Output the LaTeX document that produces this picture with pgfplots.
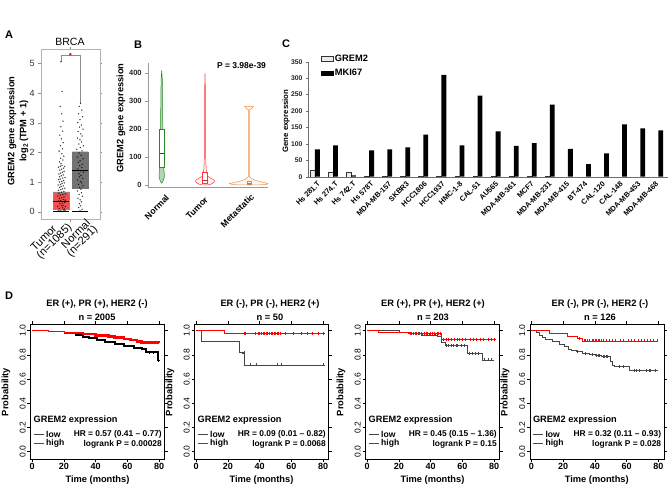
\documentclass[border=0pt]{standalone}
\usepackage{fontspec}
\setmainfont{Liberation Sans}
\usepackage{pgfplots}
\usepackage{pgfplotstable}
\pgfplotsset{compat=1.18}
\newcommand{\fs}[1]{\fontsize{#1}{#1}\selectfont}
\definecolor{gepiared}{RGB}{242,80,80}
\definecolor{gepiagray}{RGB}{115,115,115}
\definecolor{vgreen}{RGB}{40,135,40}
\definecolor{vred}{RGB}{255,55,55}
\definecolor{vorange}{RGB}{232,150,85}
\definecolor{kmred}{RGB}{255,0,0}
\definecolor{kmgray}{RGB}{70,70,70}
\definecolor{axgray}{RGB}{110,110,110}

\pgfplotstableread{
i grem mki
0 20 83
1 15 95
2 13 4
3 2 80
4 2 83
5 2 89
6 1 128
7 1 310
8 1 95
9 0.5 247
10 1 138
11 0.5 94
12 0.5 102
13 0.5 219
14 0 85
15 0 38
16 0 71
17 0 159
18 0 147
19 0 141
}\dataC

\pgfplotsset{
 km/.style={anchor=south west, scale only axis, width=134pt, height=134.7pt,
  xmin=-1, xmax=83.4, ymin=-0.06, ymax=1.053,
  xtick={0,20,40,60,80}, ytick={0,0.2,0.4,0.6,0.8,1},
  tick align=outside, major tick length=3pt,
  axis line style={black, line width=0.6pt}, tick style={black, line width=0.6pt},
  xticklabel style={font=\fs{9}\bfseries, inner sep=1.5pt},
  yticklabel style={font=\fs{8.5}, rotate=90, anchor=south, inner sep=1.5pt,
    /pgf/number format/fixed, /pgf/number format/fixed zerofill, /pgf/number format/precision=1},
  /pgf/number format/assume math mode=true},
 cens/.style={only marks, mark=+, mark size=1.5pt, line width=0.4pt},
}

\begin{document}
\begin{tikzpicture}
\path[use as bounding box] (0pt,0pt) rectangle (669pt,-487pt);

% panel letters
\node[font=\fs{11}\bfseries] at (9pt,-35pt) {A};
\node[font=\fs{11}\bfseries] at (138pt,-45pt) {B};
\node[font=\fs{11}\bfseries] at (286pt,-44pt) {C};
\node[font=\fs{11}\bfseries] at (9pt,-296pt) {D};

% ===== Panel A =====
\node[font=\fs{10.5}] at (70pt,-42pt) {BRCA};
\node[rotate=90, font=\fs{9.3}\bfseries] at (12pt,-131pt) {GREM2 gene expression};
\node[rotate=90, font=\fs{9.3}\bfseries] at (24pt,-131pt) {log\textsubscript{2}\,(TPM + 1)};
\begin{axis}[at={(40.7pt,-219pt)}, anchor=south west, scale only axis,
  width=59pt, height=169.7pt, xmin=40.7, xmax=99.7, ymin=-0.246, ymax=5.47,
  axis line style={black!30}, tick style={black!45}, tick align=outside,
  major tick length=2.5pt, ytick={0,1,2,3,4,5}, xtick={70.3}, xticklabels={},
  yticklabel style={font=\fs{9}, text=black!80},
  /pgf/number format/assume math mode=true]
\addplot[fill=gepiared, draw=black!45, line width=0.3pt] coordinates {(53,0.09)(69,0.09)(69,0.67)(53,0.67)(53,0.09)};
\addplot[fill=gepiagray, draw=black!55, line width=0.3pt] coordinates {(72.3,0.79)(88,0.79)(88,2.02)(72.3,2.02)(72.3,0.79)};
\addplot[only marks, mark=*, mark size=0.5pt, mark options={draw=none, fill=black}, opacity=0.6] coordinates {
(58.3,0.03)(60.1,0.05)(61.9,0.02)(63.6,0.06)(65.0,0.04)(59.2,0.11)(62.8,0.13)(64.4,0.09)(57.8,0.18)(61.3,0.2)(63.1,0.22)(65.3,0.17)(59.9,0.27)(62.2,0.29)(64.6,0.31)(58.6,0.36)(60.8,0.38)(63.4,0.41)(65.1,0.39)(59.4,0.45)(61.7,0.47)(64.0,0.5)(57.9,0.53)(60.4,0.56)(62.9,0.58)(65.4,0.6)(59.0,0.63)(61.5,0.66)(63.9,0.68)(58.4,0.72)(60.9,0.74)(62.6,0.77)(64.8,0.79)
(59.7,0.82)(61.2,0.85)(63.3,0.87)(58.1,0.9)(60.5,0.92)(62.1,0.95)(64.3,0.97)(59.3,1.0)(61.8,1.02)(63.7,1.05)(58.7,1.08)(60.2,1.1)(62.7,1.13)(65.0,1.15)(59.6,1.18)(61.4,1.21)(63.2,1.24)(58.9,1.27)(60.7,1.3)(62.3,1.33)(64.1,1.36)(59.8,1.4)(61.6,1.43)(63.5,1.47)(58.4,1.5)(60.3,1.53)(62.0,1.56)(64.7,1.52)
(61.1,1.62)(59.5,1.68)(62.9,1.74)(60.6,1.8)(63.8,1.87)(61.9,1.95)(59.1,2.04)(62.4,2.12)(60.4,2.22)(63.2,2.33)(61.3,2.45)(59.7,2.58)(62.6,2.71)(60.9,2.86)(63.0,3.05)(61.6,3.3)(60.2,3.55)(62.1,4.05)(60.8,5.05)
(80.5,3.65)(79.2,3.55)(81.8,3.42)(78.6,3.3)(82.5,3.2)(80.0,3.1)(77.8,3.0)(81.3,2.92)(79.5,2.85)(83.0,2.78)(78.2,2.7)(80.8,2.62)(82.2,2.55)(77.5,2.48)(79.9,2.42)(81.6,2.35)(78.9,2.28)(83.4,2.22)(80.3,2.16)(76.8,2.1)(82.0,2.05)
(79.0,1.98)(81.2,1.9)(77.3,1.84)(83.1,1.78)(80.1,1.72)(78.4,1.66)(82.4,1.6)(79.7,1.55)(81.9,1.49)(77.9,1.44)(80.6,1.38)(83.3,1.33)(78.8,1.28)(81.0,1.22)(79.3,1.17)(82.7,1.12)(77.6,1.07)(80.4,1.02)(81.7,0.97)(78.5,0.92)(82.9,0.87)(79.8,0.82)(80.9,0.76)(77.4,0.7)(81.4,0.64)(79.1,0.58)(82.3,0.52)(78.0,0.46)(80.2,0.4)(81.5,0.33)(79.4,0.27)(80.7,0.2)(78.7,0.14)(82.1,0.08)(80,0.03)};
\addplot[black, line width=1.2pt] coordinates {(53,0.34)(69,0.34)};
\addplot[black, line width=1.2pt] coordinates {(72.3,1.38)(88,1.38)};
\addplot[black, line width=1.5pt] coordinates {(53,0)(69,0)};
\addplot[black, line width=1.5pt] coordinates {(72.3,0)(88,0)};
\addplot[black!45, line width=0.4pt] coordinates {(60.7,5.05)(60.7,5.27)(80.3,5.27)(80.3,3.66)};
\addplot[only marks, mark=asterisk, mark size=1.4pt, red, line width=0.5pt] coordinates {(70.3,5.3)};
\end{axis}
\node[rotate=45, font=\fs{11}, inner sep=0pt] at (43.5pt,-238pt) {Tumor};
\node[rotate=45, font=\fs{11}, inner sep=0pt] at (54.5pt,-241.5pt) {(n=1085)};
\node[rotate=45, font=\fs{11}, inner sep=0pt] at (75.5pt,-234pt) {Normal};
\node[rotate=45, font=\fs{11}, inner sep=0pt] at (82.5pt,-241.5pt) {(n=291)};

% ===== Panel B =====
\node[rotate=90, font=\fs{9.3}\bfseries] at (121pt,-118pt) {GREM2 gene expression};
\begin{axis}[at={(147.7pt,-187.3pt)}, anchor=south west, scale only axis,
  width=120.3pt, height=124pt, xmin=147.7, xmax=268, ymin=-8.2, ymax=435.8,
  axis x line=bottom, axis y line=left, axis line style={axgray!70, -},
  tick style={axgray!70}, tick align=outside, major tick length=2.5pt,
  xtick=\empty, ytick={0,100,200,300,400},
  yticklabel style={font=\fs{7.5}\bfseries, text=black!85},
  /pgf/number format/assume math mode=true]
% Normal violin
\addplot[fill=vgreen!35, draw=vgreen, line width=0.5pt] coordinates {
(161.7,6)(163.2,15)(164.4,30)(164.2,45)(163.7,60)(163.3,80)(163.0,120)(162.8,200)(162.6,300)(162.3,380)(161.7,410)
(161.1,380)(160.8,300)(160.6,200)(160.4,120)(160.1,80)(159.7,60)(159.2,45)(159.0,30)(160.2,15)(161.7,6)};
\addplot[fill=white, draw=vgreen, line width=0.5pt] coordinates {(159.6,62)(163.8,62)(163.8,200)(159.6,200)(159.6,62)};
\addplot[vgreen!70!black, line width=1.1pt] coordinates {(159.6,113)(163.8,113)};
% Tumor violin
\addplot[fill=vred!6, draw=vred, line width=0.5pt] coordinates {
(205,0)(208,0.5)(211,3)(213.5,8)(214.5,13)(214,18)(211,24)(207.5,32)(206.8,42)(206.2,55)(205.8,80)(205.6,130)(205.4,250)(205.2,398)
(204.8,398)(204.6,250)(204.4,130)(204.2,80)(203.8,55)(203.2,42)(202.5,32)(199,24)(196,18)(195.5,13)(196.5,8)(199,3)(202,0.5)(205,0)};
\addplot[fill=white, draw=vred, line width=0.5pt] coordinates {(202.3,6)(207.7,6)(207.7,45)(202.3,45)(202.3,6)};
\addplot[vred!80!black, line width=1pt] coordinates {(202.3,17)(207.7,17)};
% Metastatic violin
\addplot[fill=vorange!8, draw=vorange, line width=0.5pt] coordinates {
(249,0)(259,0.3)(266,2)(268.5,5)(265,8)(258,14)(253,20)(250.5,26)(249.4,32)(249.4,268)(253.3,280)(253.3,282)
(244.7,282)(244.7,280)(248.6,268)(248.6,32)(247.5,26)(245,20)(240,14)(233,8)(229.5,5)(232,2)(239,0.3)(249,0)};
\addplot[fill=white, draw=vorange!90!black, line width=0.5pt] coordinates {(247,1)(251,1)(251,12)(247,12)(247,1)};
\addplot[vorange!80!black, line width=1pt] coordinates {(247,5)(251,5)};
\end{axis}
\node[anchor=east, font=\fs{8.5}\bfseries] at (269.5pt,-66pt) {P = 3.98e-39};
\node[rotate=45, anchor=east, font=\fs{8.8}\bfseries] at (170pt,-194pt) {Normal};
\node[rotate=45, anchor=east, font=\fs{8.8}\bfseries] at (209pt,-196pt) {Tumor};
\node[rotate=45, anchor=east, font=\fs{8.8}\bfseries] at (255pt,-193pt) {Metastatic};

% ===== Panel C =====
\node[rotate=90, font=\fs{7.8}\bfseries] at (286pt,-121pt) {Gene expression};
\begin{axis}[at={(308pt,-176.7pt)}, anchor=south west, scale only axis,
  width=360pt, height=115pt, xmin=-0.387, xmax=19.535, ymin=0, ymax=350,
  axis x line=bottom, axis y line=left, axis line style={axgray, -},
  tick style={axgray}, tick align=outside, major tick length=2pt,
  ybar=0pt, bar width=4.8pt, xtick=\empty, ytick={0,50,100,150,200,250,300,350},
  yticklabel style={font=\fs{6.8}\bfseries, text=black!85},
  /pgf/number format/assume math mode=true,
  legend style={at={(0.035,1.08)}, anchor=north west, draw=none, fill=none,
    font=\fs{9.3}\bfseries, row sep=2.5pt, inner sep=0pt},
  legend cell align=left,
  legend image code/.code={\draw[#1] (0pt,-2.2pt) rectangle (11.7pt,2.2pt);}]
\addplot[fill=black!8, draw=black!80, line width=0.4pt] table[x=i, y=grem] {\dataC};
\addplot[fill=black, draw=none] table[x=i, y=mki] {\dataC};
\legend{GREM2, MKI67}
\end{axis}
\foreach \n [count=\i from 0] in {Hs 281.T, Hs 274.T, Hs 742.T, Hs 578T, MDA-MB-157, SKBR3, HCC1806, HCC1937, HMC-1-8, CAL-51, AU565, MDA-MB-361, MCF7, MDA-MB-231, MDA-MB-415, BT-474, CAL-120, CAL-148, MDA-MB-453, MDA-MB-468}
  {\node[rotate=45, anchor=east, font=\fs{7.4}\bfseries, inner sep=0pt] at ({(319+17.8*\i)*1pt},-182.5pt) {\n};}

% ===== Panel D =====
% plot 1
\begin{axis}[km, at={(30.5pt,-459pt)}]
\addplot[const plot, kmgray, line width=0.5pt] coordinates {(0,1)(10,0.993)(20,0.982)(27,0.963)(32,0.952)(36,0.943)(41,0.925)(46,0.91)(52,0.893)(58,0.874)(64,0.86)(69.5,0.846)(71.5,0.821)(79,0.758)(80,0.758)};
\addplot[const plot, black, line width=2pt] coordinates {(27,0.963)(32,0.952)(36,0.943)(41,0.925)(46,0.91)(52,0.893)(58,0.874)(64,0.86)(69.5,0.846)(71.5,0.821)(79,0.758)(80,0.758)};
\addplot[const plot, kmred, line width=0.5pt] coordinates {(0,1)(10,0.995)(20,0.988)(27,0.98)(32,0.972)(40,0.962)(48,0.952)(52,0.944)(58,0.932)(62,0.924)(66,0.912)(69,0.903)(80,0.9)};
\addplot[const plot, kmred, line width=2.6pt] coordinates {(27.3,0.98)(32,0.972)(40,0.962)(48,0.952)(52,0.944)(58,0.932)(62,0.924)(66,0.912)(69,0.903)(80,0.9)};
\addplot[cens, black] coordinates {(79.5,0.758)(74,0.821)(76,0.821)};
\end{axis}
% plot 2
\begin{axis}[km, at={(194.5pt,-459pt)}]
\addplot[const plot, kmgray, line width=0.5pt] coordinates {(0,1)(3.5,0.915)(27.4,0.818)(30.5,0.717)(80,0.717)};
\addplot[cens, kmgray] coordinates {(30,0.818)(34.3,0.717)(37.8,0.717)(50.9,0.717)(53.6,0.717)(80,0.717)};
\addplot[const plot, kmred, line width=0.5pt] coordinates {(0,1)(18,0.978)(80,0.978)};
\addplot[cens, kmred] coordinates {(30,0.978)(31,0.978)(37,0.978)(39,0.978)(40,0.978)(41,0.978)(42,0.978)(43,0.978)(44,0.978)(45,0.978)(46,0.978)(47,0.978)(48,0.978)(49,0.978)(50,0.978)(51,0.978)(52,0.978)(53,0.978)(56,0.978)(61,0.978)(66,0.978)(70,0.978)(73,0.978)(77,0.978)(80,0.978)};
\end{axis}
% plot 3
\begin{axis}[km, at={(365.5pt,-459pt)}]
\addplot[const plot, kmgray, line width=0.5pt] coordinates {(0,1)(20,0.99)(27,0.978)(34,0.965)(44,0.955)(46.9,0.905)(49,0.877)(63,0.815)(72.5,0.76)(80,0.76)};
\addplot[cens, kmgray] coordinates {(28,0.978)(29,0.978)(31,0.978)(32,0.978)(35,0.965)(36,0.965)(37,0.965)(39,0.965)(41,0.965)(42,0.965)(43,0.965)(50,0.877)(51,0.877)(53,0.877)(54,0.877)(56,0.877)(57,0.877)(59,0.877)(61,0.877)(64,0.815)(66,0.815)(68,0.815)(70,0.815)(74,0.76)(76,0.76)(78,0.76)};
\addplot[const plot, kmred, line width=0.5pt] coordinates {(0,1)(7,0.99)(26,0.978)(47,0.931)(80,0.931)};
\addplot[cens, kmred] coordinates {(27,0.978)(28,0.978)(30,0.978)(31,0.978)(33,0.978)(34,0.978)(36,0.978)(37,0.978)(38,0.978)(40,0.978)(41,0.978)(42,0.978)(44,0.978)(45,0.978)(46,0.978)(48,0.931)(50,0.931)(51,0.931)(53,0.931)(55,0.931)(57,0.931)(58,0.931)(60,0.931)(62,0.931)(65,0.931)(67,0.931)(69,0.931)(71,0.931)(73,0.931)(76,0.931)(78,0.931)(80,0.931)};
\end{axis}
% plot 4
\begin{axis}[km, at={(529.8pt,-459pt)}]
\addplot[const plot, kmgray, line width=0.5pt] coordinates {(0,1)(3,0.984)(5,0.964)(7,0.945)(9,0.931)(13.2,0.909)(17.4,0.89)(20.6,0.868)(23.3,0.846)(25.4,0.835)(28,0.827)(32.2,0.813)(36.4,0.805)(40.6,0.799)(44,0.786)(49.5,0.75)(50.8,0.717)(52,0.703)(61.5,0.67)(80,0.67)};
\addplot[cens, kmgray] coordinates {(29,0.827)(34,0.813)(38,0.805)(41,0.799)(42,0.799)(43,0.799)(45,0.786)(46,0.786)(47,0.786)(48,0.786)(55,0.703)(58,0.703)(65,0.67)(66,0.67)(68,0.67)(72,0.67)(74,0.67)(75,0.67)(78,0.67)};
\addplot[const plot, kmred, line width=0.5pt] coordinates {(0,1)(11.1,0.978)(22.7,0.956)(29,0.937)(32.2,0.917)(80,0.917)};
\addplot[cens, kmred] coordinates {(30,0.937)(33,0.917)(34,0.917)(35,0.917)(36.5,0.917)(38,0.917)(39,0.917)(40,0.917)(41,0.917)(42,0.917)(43,0.917)(44,0.917)(45.5,0.917)(47,0.917)(49,0.917)(51,0.917)(53,0.917)(56,0.917)(58,0.917)(61,0.917)(63,0.917)(65,0.917)(67,0.917)(69,0.917)(71,0.917)(73,0.917)(75,0.917)(77,0.917)(79,0.917)};
\end{axis}

% titles, labels, legends of D
\foreach \L/\tx/\T/\N/\HR/\P in {
  30.5/97/{ER (+), PR (+), HER2 (-)}/{n = 2005}/{HR = 0.57 (0.41 -- 0.77)}/{logrank P = 0.00028},
  194.5/270/{ER (-), PR (-), HER2 (+)}/{n = 50}/{HR = 0.09 (0.01 -- 0.82)}/{logrank P = 0.0068},
  365.5/433/{ER (+), PR (+), HER2 (+)}/{n = 203}/{HR = 0.45 (0.15 -- 1.36)}/{logrank P = 0.15},
  529.8/600/{ER (-), PR (-), HER2 (-)}/{n = 126}/{HR = 0.32 (0.11 -- 0.93)}/{logrank P = 0.028}}
{
  \node[font=\fs{9.3}\bfseries] at (\tx pt,-304.5pt) {\T};
  \node[font=\fs{9.3}\bfseries] at (\tx pt,-317pt) {\N};
  \node[rotate=90, font=\fs{9.3}\bfseries] at ({(\L-24.5)*1pt},-392pt) {Probability};
  \node[font=\fs{9.3}\bfseries] at ({(\L+67)*1pt},-480pt) {Time (months)};
  \node[anchor=west, font=\fs{9.2}\bfseries, inner sep=0pt] at ({(\L+3)*1pt},-420pt) {GREM2 expression};
  \draw[kmgray, line width=0.6pt] ({(\L+3)*1pt},-434.3pt) -- ({(\L+13)*1pt},-434.3pt);
  \draw[kmred, line width=0.6pt] ({(\L+3)*1pt},-443.3pt) -- ({(\L+13)*1pt},-443.3pt);
  \node[anchor=west, font=\fs{8.6}\bfseries, inner sep=0pt] at ({(\L+15.5)*1pt},-434pt) {low};
  \node[anchor=west, font=\fs{8.6}\bfseries, inner sep=0pt] at ({(\L+15.5)*1pt},-443pt) {high};
  \node[anchor=east, font=\fs{8.4}\bfseries, inner sep=0pt] at ({(\L+131.5)*1pt},-434.3pt) {\HR};
  \node[anchor=east, font=\fs{8.4}\bfseries, inner sep=0pt] at ({(\L+131.5)*1pt},-444.5pt) {\P};
}
\end{tikzpicture}
\end{document}
